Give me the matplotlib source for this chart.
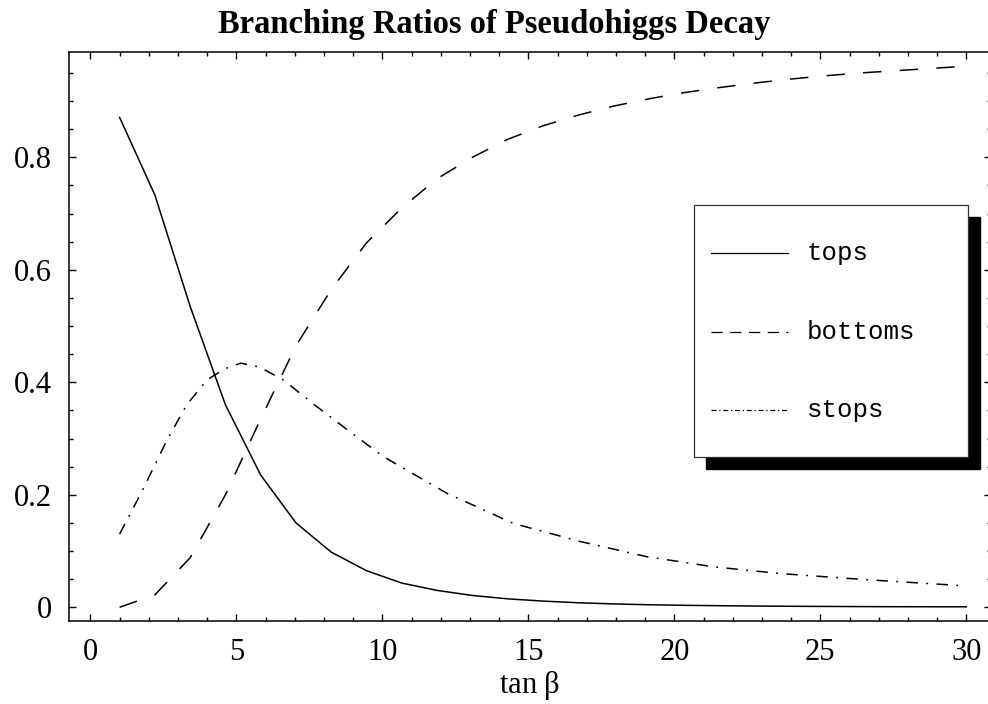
import numpy as np
import matplotlib
matplotlib.use("Agg")
import matplotlib.pyplot as plt
from matplotlib.patches import Rectangle
from matplotlib.lines import Line2D
from matplotlib.ticker import MultipleLocator

# tan(beta) sample points (25 points from 1 to 30) for tops / bottoms
tanb = np.linspace(1, 30, 25)

tops = [0.871, 0.733, 0.535, 0.360, 0.235, 0.150, 0.098, 0.065, 0.043, 0.030,
        0.021, 0.015, 0.011, 0.008, 0.006, 0.0045, 0.0035, 0.0028, 0.0022,
        0.0018, 0.0015, 0.0012, 0.0010, 0.0009, 0.0008]
bottoms = [0.000, 0.022, 0.088, 0.200, 0.335, 0.465, 0.565, 0.648, 0.710, 0.762,
           0.800, 0.832, 0.856, 0.875, 0.891, 0.904, 0.915, 0.924, 0.932,
           0.939, 0.945, 0.950, 0.954, 0.958, 0.962]

# stops curve read at its own points (smoother around the peak)
tanb_stops = [1.0, 1.76, 2.62, 3.30, 3.99, 4.6, 5.15, 5.8, 6.61, 7.75, 8.89,
              10.03, 12.2, 14.49, 16.77, 19.05, 21.33, 23.62, 26.59, 30.0]
stops = [0.130, 0.2055, 0.297, 0.360, 0.404, 0.424, 0.434, 0.427, 0.404,
         0.357, 0.312, 0.268, 0.203, 0.149, 0.117, 0.090, 0.072, 0.060,
         0.049, 0.038]

labels = ["tops", "bottoms", "stops"]
title = "Branching Ratios of Pseudohiggs Decay"

plt.rcParams['font.family'] = ['Liberation Serif', 'DejaVu Serif']

W, H = 988, 704
fig = plt.figure(figsize=(W / 100, H / 100), dpi=100)
right_px = 991
ax = fig.add_axes([68.5 / W, 1 - 621 / H, (right_px - 68.5) / W, (621 - 52.3) / H])

lw = 1.1
ax.plot(tanb, tops, color='black', lw=lw, linestyle='-')
ax.plot(tanb, bottoms, color='black', lw=lw, dashes=(12, 12))
ax.plot(tanb_stops, stops, color='black', lw=lw, dashes=(7.5, 5.5, 1.2, 5.5))

ax.set_xlim(-0.75, (right_px - 90.3) / 29.2)
ax.set_ylim(-0.0244, 0.9867)

ax.xaxis.set_major_locator(MultipleLocator(5))
ax.xaxis.set_minor_locator(MultipleLocator(1))
ax.yaxis.set_major_locator(MultipleLocator(0.2))
ax.yaxis.set_minor_locator(MultipleLocator(0.05))
ax.set_yticks([0, 0.2, 0.4, 0.6, 0.8])
ax.set_yticklabels(["0", "0.2", "0.4", "0.6", "0.8"])

ax.tick_params(which='both', direction='in', top=True, right=True,
               labelsize=22, width=1.0, color='black')
ax.tick_params(which='major', length=4.7)
ax.tick_params(which='minor', length=3)
ax.tick_params(axis='x', which='major', pad=12)
ax.tick_params(axis='y', which='major', pad=12)
for s in ax.spines.values():
    s.set_linewidth(1.1)

ax.set_xlabel(r"tan $\mathregular{\beta}$", fontsize=22, labelpad=2)

fig.text(0.5, 1 - 33 / H, title, ha='center', va='baseline',
         fontsize=23.5, fontweight='bold')

# legend box with drop shadow
bx0, bx1, by0, by1 = 694, 968, 205, 457
off = 12
fig.patches.append(Rectangle(((bx0 + off) / W, 1 - (by1 + off) / H),
                             (bx1 - bx0) / W, (by1 - by0) / H,
                             transform=fig.transFigure, facecolor='black',
                             edgecolor='black', zorder=5))
fig.patches.append(Rectangle((bx0 / W, 1 - by1 / H), (bx1 - bx0) / W,
                             (by1 - by0) / H, transform=fig.transFigure,
                             facecolor='white', edgecolor='#333333',
                             lw=0.9, zorder=6))

leg_styles = [dict(linestyle='-'), dict(dashes=(9, 6)),
              dict(dashes=(4, 2.2, 1, 2.2))]
leg_y = [253.3, 331.7, 410]
for lab, st, yy in zip(labels, leg_styles, leg_y):
    fig.lines.append(Line2D([710.7 / W, 788.3 / W], [1 - yy / H, 1 - yy / H],
                            transform=fig.transFigure, color='black',
                            lw=0.9, zorder=7, **st))
    fig.text(806.7 / W, 1 - yy / H, lab, ha='left', va='center',
             fontsize=18.5, family=['Liberation Mono', 'DejaVu Sans Mono'],
             zorder=8)

fig.savefig("out.png", dpi=100)
